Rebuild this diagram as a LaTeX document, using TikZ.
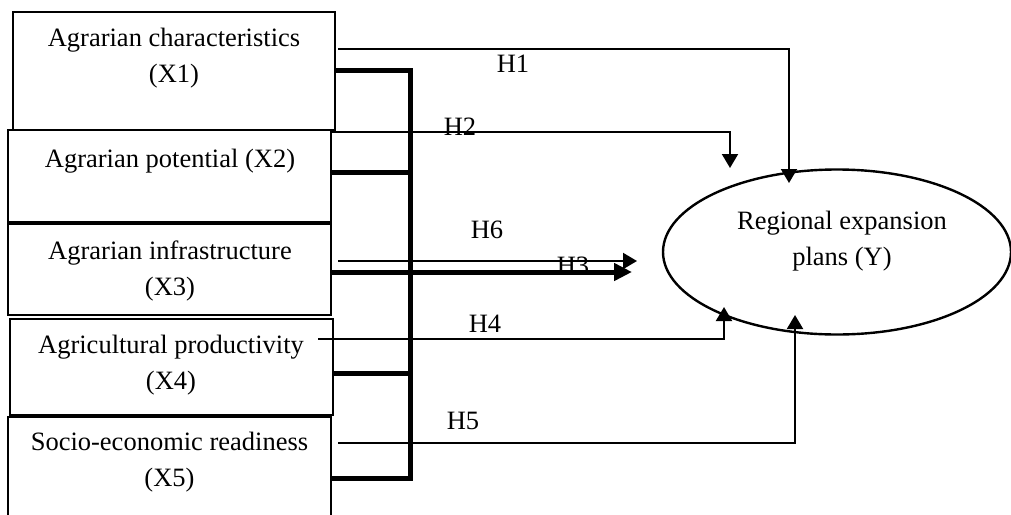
\documentclass[tikz,border=0pt]{standalone}
\usepackage{fontspec}
\setmainfont{Liberation Serif}
\usetikzlibrary{arrows.meta,shapes.geometric}
\begin{document}
\begin{tikzpicture}[x=0.5pt,y=-0.5pt,
  box/.style={draw,line width=1.2pt,inner sep=0pt,rectangle},
  txt/.style={align=center,inner sep=0pt,font=\fontsize{13.25}{18}\selectfont},
  lab/.style={inner sep=0pt,font=\fontsize{13.25}{16}\selectfont},
  thinarr/.style={line width=1pt,-{Triangle[length=7pt,width=8pt]}},
  bus/.style={line width=2.5pt,line join=miter},
  busarr/.style={line width=2.5pt,-{Triangle[length=9pt,width=8.5pt]}}]
\useasboundingbox (0,0) rectangle (1011,514);
\clip (0,0) rectangle (1011,514);
\fill[white] (0,0) rectangle (1011,514);
% boxes
\node[box,minimum width=161pt,minimum height=59pt] (x1) at (174,71) {};
\node[box,minimum width=161.5pt,minimum height=46pt] (x2) at (169.5,176) {};
\node[box,minimum width=161.5pt,minimum height=45.5pt] (x3) at (169.5,269.5) {};
\node[box,minimum width=161.5pt,minimum height=48pt] (x4) at (171.5,367) {};
\node[box,minimum width=161.5pt,minimum height=60pt] (x5) at (169.5,477) {};
% box texts
\node[txt] (t1) at (174,58) {Agrarian characteristics\\(X1)};
\node[txt] (t2) at (170,161) {Agrarian potential (X2)};
\node[txt] (t3) at (170,271) {Agrarian infrastructure\\(X3)};
\node[txt] (t4) at (171,365) {Agricultural productivity\\(X4)};
\node[txt] (t5) at (169.5,462) {Socio-economic readiness\\(X5)};
% ellipse
\node[draw,ellipse,line width=1.2pt,minimum width=174pt,minimum height=82.5pt,inner sep=0pt] (y) at (837,252) {};
\node[txt] (yt) at (842,241) {Regional expansion\\plans (Y)};
% labels
\node[lab] (l1) at (513,64) {H1};
\node[lab] (l2) at (460,127) {H2};
\node[lab] (l6) at (487,230) {H6};
\node[lab] (l3) at (573,266) {H3};
\node[lab] (l4) at (485,324) {H4};
\node[lab] (l5) at (463,421) {H5};
% bus coordinates
\coordinate (b1) at (410,70);
\coordinate (b2) at (410,172);
\coordinate (b3) at (410,272);
\coordinate (b4) at (410,373);
\coordinate (b5) at (410,478);
% thin connector ends
\coordinate (h1s) at (338,49);   \coordinate (h1e) at (789,183);
\coordinate (h2s) at (331,132);  \coordinate (h2e) at (730,168);
\coordinate (h6s) at (338,261);  \coordinate (h6e) at (637,261);
\coordinate (h4s) at (318,339);  \coordinate (h4e) at (724,307);
\coordinate (h5s) at (338,443);  \coordinate (h5e) at (795,315);
\coordinate (h3e) at (632,272);
% thin arrows
\draw[thinarr] (h1s) -| (h1e);
\draw[thinarr] (h2s) -| (h2e);
\draw[thinarr] (h6s) -- (h6e);
\draw[thinarr] (h4s) -| (h4e);
\draw[thinarr] (h5s) -| (h5e);
% thick bus
\draw[bus] (x1.east |- b1) -- (b1) -- (b5) -- (x5.east |- b5);
\draw[bus] (x2.east |- b2) -- (b2);
\draw[bus] (x4.east |- b4) -- (b4);
\draw[busarr] (x3.east |- b3) -- (h3e);
\end{tikzpicture}
\end{document}
